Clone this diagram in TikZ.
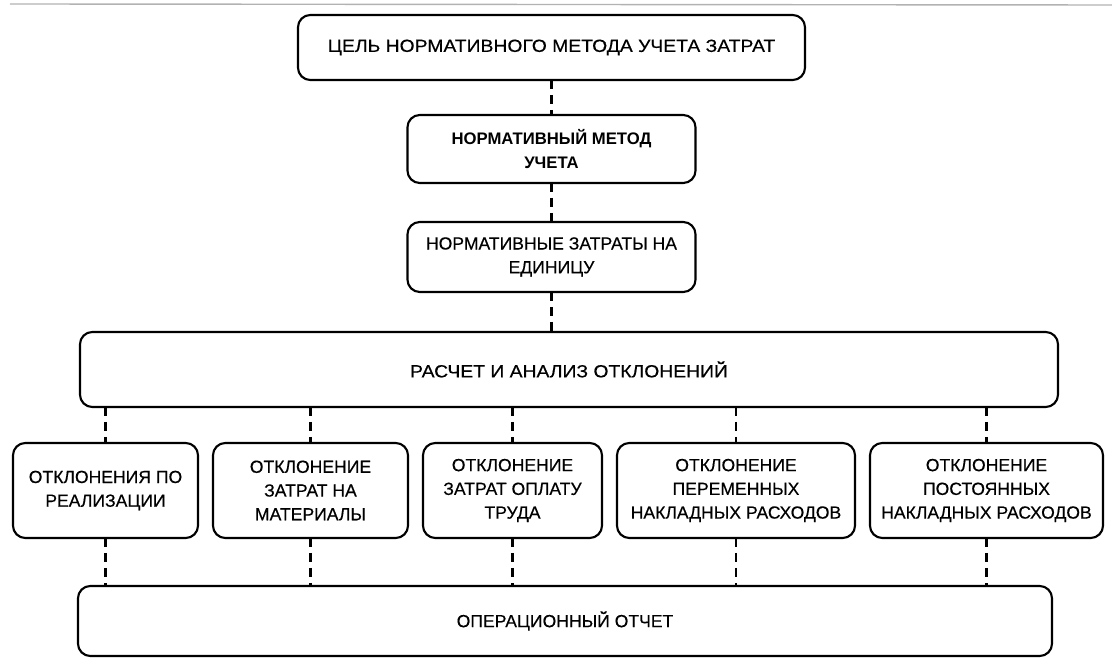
\documentclass[tikz,border=0pt]{standalone}
\usepackage{fontspec}
\setmainfont{Liberation Sans}
\newfontfamily\boxfont{Liberation Sans}[FakeBold=0.4]
\newfontfamily\widefont{Liberation Sans}[FakeStretch=1.1, FakeBold=0.4]
\usetikzlibrary{positioning}

\begin{document}
\begin{tikzpicture}[
    font=\boxfont\fontsize{10}{13.5}\selectfont,
    box/.style={draw, rectangle, rounded corners=7pt, line width=1.2pt, align=center, outer sep=0pt, inner sep=2pt},
    wide/.style={font=\widefont\fontsize{10}{13.5}\selectfont},
    link/.style={line width=1.3pt, dash pattern=on 5pt off 3.5pt}
]
    \useasboundingbox (0,0) rectangle (22.24,13.16);
    \draw[gray!60, line width=0.8pt] (0.2,13.08) -- (22.24,13.06);

    % Chain at the top
    \node[box, wide, minimum width=10.14cm, minimum height=1.3cm] (goal) at (11.03,12.21) {ЦЕЛЬ НОРМАТИВНОГО МЕТОДА УЧЕТА ЗАТРАТ};
    \node[box, minimum width=5.76cm, minimum height=1.36cm, font=\normalfont\fontsize{9.5}{13.5}\selectfont\bfseries, below=0.7cm of goal] (method) {НОРМАТИВНЫЙ МЕТОД\\УЧЕТА};
    \node[box, minimum width=5.76cm, minimum height=1.4cm, below=0.78cm of method] (normcost) {НОРМАТИВНЫЕ ЗАТРАТЫ НА\\ЕДИНИЦУ};
    \node[box, wide, minimum width=19.56cm, minimum height=1.5cm] (analysis) at (11.38,5.77) {РАСЧЕТ И АНАЛИЗ ОТКЛОНЕНИЙ};

    % Deviations
    \node[box, minimum width=3.7cm, minimum height=1.9cm] (dev_sales) at (2.11,3.35) {ОТКЛОНЕНИЯ ПО\\РЕАЛИЗАЦИИ};
    \node[box, minimum width=3.9cm, minimum height=1.9cm, right=0.3cm of dev_sales] (dev_mat) {ОТКЛОНЕНИЕ\\ЗАТРАТ НА\\МАТЕРИАЛЫ};
    \node[box, minimum width=3.58cm, minimum height=1.9cm, right=0.3cm of dev_mat] (dev_lab) {ОТКЛОНЕНИЕ\\ЗАТРАТ ОПЛАТУ\\ТРУДА};
    \node[box, minimum width=4.76cm, minimum height=1.9cm, right=0.3cm of dev_lab] (dev_var) {ОТКЛОНЕНИЕ\\ПЕРЕМЕННЫХ\\НАКЛАДНЫХ РАСХОДОВ};
    \node[box, minimum width=4.66cm, minimum height=1.9cm, right=0.3cm of dev_var] (dev_fix) {ОТКЛОНЕНИЕ\\ПОСТОЯННЫХ\\НАКЛАДНЫХ РАСХОДОВ};

    % Report
    \node[box, minimum width=19.48cm, minimum height=1.4cm] (report) at (11.3,0.74) {ОПЕРАЦИОННЫЙ ОТЧЕТ};

    % Links
    \draw[link] (goal.south) -- (method.north);
    \draw[link] (method.south) -- (normcost.north);
    \draw[link] (normcost.south) -- (normcost.south |- analysis.north);
    \foreach \d in {dev_sales, dev_mat, dev_lab, dev_var, dev_fix} {
        \draw[link] (\d.north |- analysis.south) -- (\d.north);
        \draw[link] (\d.south) -- (\d.south |- report.north);
    }
\end{tikzpicture}
\end{document}
